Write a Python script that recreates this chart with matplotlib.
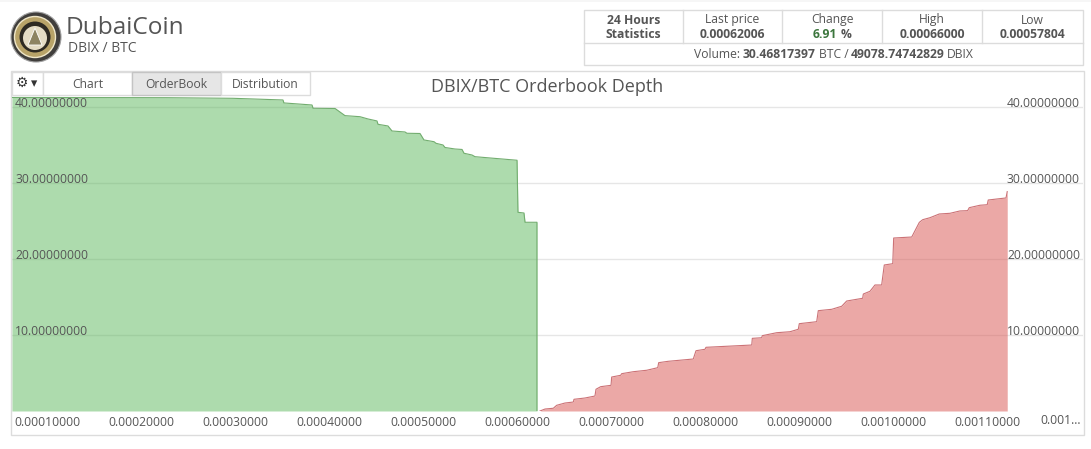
import matplotlib
matplotlib.use("Agg")
import matplotlib.pyplot as plt
from matplotlib.patches import Circle, Polygon, Rectangle

plt.rcParams["font.family"] = ["Open Sans", "DejaVu Sans"]

# prices are in units of 0.0001 BTC, depth in BTC
bid_price = [0.622, 2.271, 2.973, 3.505, 3.515, 3.814, 3.825, 4.059, 4.165, 4.324, 4.410, 4.505,
             4.516, 4.622, 4.665, 4.803, 4.824, 4.963, 5.005, 5.112, 5.133, 5.207, 5.229, 5.335,
             5.410, 5.431, 5.516, 5.548, 5.707, 5.995, 6.005, 6.069, 6.080, 6.207, 6.207]
bid_depth = [41.25, 41.22, 41.14, 40.92, 40.53, 40.26, 39.83, 39.80, 38.86, 38.72, 38.42, 38.16,
             37.72, 37.50, 36.84, 36.71, 36.54, 36.51, 35.66, 35.43, 35.22, 35.00, 34.67, 34.47,
             34.41, 33.91, 33.68, 33.46, 33.29, 32.99, 26.14, 26.05, 24.83, 24.83, 0.0]
ask_price = [6.239, 6.293, 6.381, 6.417, 6.505, 6.594, 6.601, 6.718, 6.824, 6.835, 6.885, 6.995,
             7.002, 7.098, 7.108, 7.232, 7.375, 7.492, 7.502, 7.604, 7.870, 7.899, 7.995, 8.005,
             8.492, 8.498, 8.598, 8.604, 8.757, 8.899, 8.987, 8.998, 9.183, 9.200, 9.343, 9.449,
             9.502, 9.672, 9.679, 9.750, 9.803, 9.874, 9.902, 9.992, 10.002, 10.194, 10.275, 10.311,
             10.388, 10.487, 10.601, 10.707, 10.789, 10.806, 10.920, 10.997, 11.008, 11.197, 11.210]
ask_depth = [0.0, 0.26, 0.36, 0.75, 1.05, 1.18, 1.54, 1.71, 1.97, 2.86, 3.20, 3.38,
             4.47, 4.70, 4.91, 5.17, 5.36, 5.70, 6.36, 6.54, 6.84, 7.93, 8.12, 8.38,
             8.68, 9.56, 9.64, 9.91, 10.30, 10.43, 10.75, 11.49, 11.75, 13.20, 13.38, 13.78,
             14.47, 14.83, 15.39, 15.75, 16.58, 16.58, 19.21, 19.38, 22.76, 22.89, 24.82, 25.17,
             25.43, 25.92, 26.01, 26.32, 26.36, 26.75, 27.07, 27.14, 27.76, 28.03, 28.86]

x_ticks = [1, 2, 3, 4, 5, 6, 7, 8, 9, 10, 11]
x_labels = ["0.00010000", "0.00020000", "0.00030000", "0.00040000", "0.00050000", "0.00060000",
            "0.00070000", "0.00080000", "0.00090000", "0.00100000", "0.00110000"]
y_ticks = [10, 20, 30, 40]
y_labels = ["10.00000000", "20.00000000", "30.00000000", "40.00000000"]

stat_heads = ["Last price", "Change", "High", "Low"]
stat_values = ["0.00062006", "", "0.00066000", "0.00057804"]
tabs = ["Chart", "OrderBook", "Distribution"]

GRAY = "#555555"
BORDER = "#dcdcdc"
W, H = 1091, 449

fig = plt.figure(figsize=(W / 100, H / 100), dpi=100)

# page furniture, drawn in pixel coordinates
page = fig.add_axes([0, 0, 1, 1], zorder=1)
page.set_xlim(0, W)
page.set_ylim(H, 0)
page.axis("off")


def box(x0, y0, x1, y1, face="none", edge=BORDER):
    page.add_patch(Rectangle((x0, y0), x1 - x0, y1 - y0, facecolor=face, edgecolor=edge, linewidth=1))


def label(x, y, s, size=8.7, color=GRAY, weight="normal", ha="center"):
    page.text(x, y, s, fontsize=size, color=color, fontweight=weight, ha=ha, va="center")


page.add_patch(Rectangle((0, 0), W, 2, facecolor="#f6f6f6", edgecolor="none"))

# logo
page.add_patch(Circle((36, 37), 25, facecolor="#403e3c", edgecolor="#a0a0a0", linewidth=0.8))
page.add_patch(Circle((35, 37), 20.5, facecolor="#b8a368", edgecolor="#efe6c8", linewidth=1))
page.add_patch(Circle((35, 37), 15.5, facecolor="#2e2a22", edgecolor="none"))
page.add_patch(Circle((35, 38), 12, facecolor="#e4dcc4", edgecolor="none"))
page.add_patch(Polygon([(35, 28), (28, 45), (42, 45)], facecolor="#8d8462", edgecolor="#ffffff", linewidth=0.6))

label(66, 28, "DubaiCoin", size=17.6, ha="left")
label(68, 48, "DBIX / BTC", size=10, ha="left")

# statistics table
box(584, 10, 1083, 65)
page.plot([584, 1083], [43, 43], color=BORDER, lw=1)
for x in [683, 782, 882, 982]:
    page.plot([x, x], [10, 43], color=BORDER, lw=1)
label(633.5, 20, "24 Hours", weight="bold")
label(633.5, 35, "Statistics", weight="bold")
for cx, head, val in zip([732.5, 832, 932, 1032.5], stat_heads, stat_values):
    label(cx, 20, head)
    if val:
        label(cx, 35, val, weight="bold")
label(813, 35, "6.91", color="#3c763d", weight="bold", ha="left")
label(841, 35, "%", weight="bold", ha="left")
label(694, 55, "Volume:", ha="left")
label(743, 55, "30.46817397", weight="bold", ha="left")
label(819, 55, "BTC /", ha="left")
label(851, 55, "49078.74742829", weight="bold", ha="left")
label(947, 55, "DBIX", ha="left")

# chart panel and tabs
box(11, 71, 1083.5, 435)
box(12, 72, 43, 95, face="white")
for x0, x1, name in zip([43, 132, 221], [132, 221, 310], tabs):
    box(x0, 72, x1, 95, face="#e6e6e6" if name == "OrderBook" else "white",
        edge="#c4c4c4" if name == "OrderBook" else BORDER)
    label((x0 + x1) / 2, 84, name)
page.text(22, 83, "\u2699", fontsize=10, color="#333333", ha="center", va="center",
          family="DejaVu Sans", fontweight="bold")
page.text(34, 84, "\u25be", fontsize=9, color="#333333", ha="center", va="center", family="DejaVu Sans")
label(547, 87, "DBIX/BTC Orderbook Depth", size=13)
label(1061, 421, "0.001...")

# depth chart
ax = fig.add_axes([12 / W, 1 - 411 / H, (1083 - 12) / W, (411 - 72) / H], zorder=2)
ax.patch.set_alpha(0)
ax.set_xlim(0.6223, 12.016)
ax.set_ylim(0, 44.6)
for s in ax.spines.values():
    s.set_visible(False)

ax.fill_between(bid_price, bid_depth, 0, color="#5cb85c", alpha=0.5, linewidth=0, zorder=2)
ax.plot(bid_price, bid_depth, color="#72ad6f", linewidth=0.8, zorder=3)
ax.fill_between(ask_price, ask_depth, 0, color="#d9534f", alpha=0.5, linewidth=0, zorder=2)
ax.plot(ask_price, ask_depth, color="#cc7276", linewidth=0.8, zorder=3)

ax.set_xticks(x_ticks, x_labels, fontsize=8.7, color=GRAY)
ax.tick_params(axis="x", length=0, pad=3.5)
ax.set_yticks(y_ticks, [])
ax.tick_params(axis="y", length=0)
ax.grid(True, axis="y", color="#e6e6e6", linewidth=1, zorder=1)
ax.set_axisbelow(True)

for v, text in zip(y_ticks, y_labels):
    ax.annotate(text, xy=(0, v), xycoords=ax.get_yaxis_transform(), xytext=(2.2, -2.3),
                textcoords="offset points", fontsize=8.7, color=GRAY, ha="left", va="bottom")
    ax.annotate(text, xy=(1, v), xycoords=ax.get_yaxis_transform(), xytext=(-2.2, -2.3),
                textcoords="offset points", fontsize=8.7, color=GRAY, ha="right", va="bottom")

fig.savefig("out.png", dpi=100)
